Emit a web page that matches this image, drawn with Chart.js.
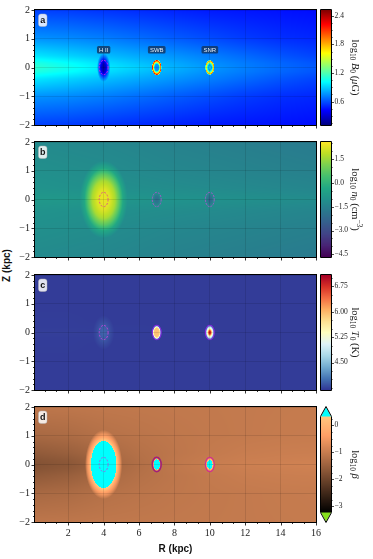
<!DOCTYPE html>
<html>
<head>
<meta charset="utf-8">
<script src="https://cdn.jsdelivr.net/npm/chart.js@4.4.1/dist/chart.umd.min.js"></script>
<style>
  body { margin: 0; background: #fff; width: 373px; height: 559px; overflow: hidden; position: relative; }
  canvas { position: absolute; }
  .axlab { position: absolute; font: bold 10px "Liberation Sans", Arial, sans-serif; color: #111; white-space: nowrap; }
</style>
</head>
<body>
<div class="axlab" id="zlab" style="left:-10px;top:260px;transform:rotate(-90deg);">Z (kpc)</div>
<script>
// ---- DATA ----

// background fields on a coarse grid: columns = R (kpc), rows = |Z| (kpc), mirrored about the plane
const rCols = [0, 2, 4, 6, 8, 10, 12, 14, 16];
const zRows = [0, 0.15, 0.4, 1, 2];

// a: log10 B0 (uG)
const bgB = [
  [1.13, 1.05, 0.97, 0.90, 0.83, 0.77, 0.71, 0.66, 0.62],
  [1.09, 1.02, 0.94, 0.87, 0.81, 0.75, 0.70, 0.65, 0.61],
  [0.96, 0.91, 0.86, 0.81, 0.76, 0.71, 0.66, 0.61, 0.57],
  [0.76, 0.74, 0.71, 0.67, 0.63, 0.59, 0.55, 0.52, 0.50],
  [0.56, 0.55, 0.53, 0.51, 0.49, 0.47, 0.46, 0.45, 0.44]
];
// b: log10 n0 (cm^-3)
const bgN = [
  [-0.82, -0.86, -0.90, -0.95, -1.00, -1.05, -1.10, -1.15, -1.20],
  [-0.88, -0.92, -0.97, -1.02, -1.07, -1.12, -1.17, -1.22, -1.27],
  [-1.00, -1.05, -1.10, -1.15, -1.20, -1.25, -1.30, -1.35, -1.40],
  [-1.10, -1.15, -1.20, -1.28, -1.35, -1.40, -1.45, -1.50, -1.55],
  [-1.25, -1.30, -1.35, -1.42, -1.50, -1.55, -1.60, -1.65, -1.70]
];
// c: log10 T0 (K)
const bgT = [
  [3.74, 3.74, 3.73, 3.73, 3.73, 3.73, 3.72, 3.72, 3.72],
  [3.73, 3.73, 3.73, 3.73, 3.72, 3.72, 3.72, 3.72, 3.72],
  [3.73, 3.73, 3.72, 3.72, 3.72, 3.72, 3.72, 3.72, 3.72],
  [3.72, 3.72, 3.72, 3.72, 3.72, 3.72, 3.72, 3.72, 3.72],
  [3.72, 3.72, 3.72, 3.72, 3.72, 3.72, 3.72, 3.72, 3.72]
];
// d: log10 beta
const bgBeta = [
  [-1.78, -1.68, -1.45, -1.25, -1.10, -1.00, -0.95, -0.92, -0.90],
  [-1.74, -1.64, -1.43, -1.24, -1.10, -1.02, -0.97, -0.95, -0.93],
  [-1.62, -1.52, -1.36, -1.21, -1.12, -1.05, -1.00, -0.98, -0.97],
  [-1.36, -1.31, -1.21, -1.15, -1.10, -1.07, -1.05, -1.03, -1.02],
  [-1.12, -1.11, -1.09, -1.08, -1.07, -1.06, -1.05, -1.04, -1.03]
];

// the three sources
const srcNames = ['H II', 'SWB', 'SNR'];
const srcR = [4, 7, 10];
const srcZ = [0, 0, 0];
const contourRad = [0.25, 0.25, 0.25];

// radial profiles around each source: rad (kpc, scaled by sr/sz), val (null = background)
const profB = [
  { sr: 0.75, sz: 1, rad: [0, 0.15, 0.25, 0.35, 0.5], val: [0.2, 0.28, 0.45, 0.62, null] },
  { sr: 1, sz: 1, rad: [0, 0.12, 0.17, 0.21, 0.245, 0.275], val: [0.72, 0.78, 1.35, 1.85, 2.2, null] },
  { sr: 1, sz: 1, rad: [0, 0.05, 0.1, 0.15, 0.19, 0.23, 0.26], val: [1.25, 0.85, 0.8, 1.2, 1.5, 1.95, null] }
];
const profN = [
  { sr: 1, sz: 1, rad: [0, 0.35, 0.65, 0.9, 1.1, 1.35], val: [2.35, 2.2, 1.6, 0.6, -0.4, null] },
  { sr: 1, sz: 1, rad: [0, 0.12, 0.24], val: [-2.1, -1.8, null] },
  { sr: 1, sz: 1, rad: [0, 0.12, 0.24], val: [-2.3, -1.9, null] }
];
const profT = [
  { sr: 1, sz: 1, rad: [0, 0.2, 0.4, 0.6], val: [3.95, 3.9, 3.8, null] },
  { sr: 1, sz: 1, rad: [0, 0.14, 0.18, 0.205, 0.23, 0.26], val: [5.95, 5.9, 5.6, 4.9, 4.2, null] },
  { sr: 1, sz: 1, rad: [0, 0.06, 0.1, 0.14, 0.18, 0.22, 0.25], val: [6.95, 6.7, 6.0, 5.3, 4.9, 4.3, null] }
];
const profBeta = [
  { sr: 0.7, sz: 0.8, rad: [0, 1, 1.08, 1.2, 1.35, 1.5], val: [1.0, 0.4, 0.18, -0.3, -0.7, null] },
  { sr: 1, sz: 1, rad: [0, 0.17, 0.2, 0.26], val: [1.0, 0.5, -0.6, null] },
  { sr: 1, sz: 1, rad: [0, 0.14, 0.17, 0.2, 0.26], val: [1.0, 0.5, 0.1, -0.3, null] }
];

// axes and colour bar ticks
const rTicks = [2, 4, 6, 8, 10, 12, 14, 16];
const zTicks = [-2, -1, 0, 1, 2];
const cbTicksB = [0.6, 1.2, 1.8, 2.4];
const cbTicksN = [-4.5, -3.0, -1.5, 0.0, 1.5];
const cbTicksT = [4.5, 5.25, 6.0, 6.75];
const cbTicksBeta = [-3, -2, -1, 0];

// ---- STYLE / LAYOUT ----
const SERIF = '"Liberation Serif", "DejaVu Serif", serif';
const SANS = '"Liberation Sans", Arial, sans-serif';
const rMin = 0.12, rMax = 16, zMin = -2, zMax = 2;
const tops = [10, 142, 275, 407];
const PH = 115;

const fmt = (v, d) => (v < -1e-9 ? '\u2212' : '') + Math.abs(v).toFixed(d);

function clamp01(x) { return Math.max(0, Math.min(1, x)); }
function jet(t) {
  return [1.5 - Math.abs(4 * t - 3), 1.5 - Math.abs(4 * t - 2), 1.5 - Math.abs(4 * t - 1)].map(v => clamp01(v) * 255);
}
function copper(t) { return [Math.min(1, 1.25 * t) * 255, 0.7812 * t * 255, 0.4975 * t * 255]; }
function stops(list) {
  const cols = list.map(h => [parseInt(h.slice(1, 3), 16), parseInt(h.slice(3, 5), 16), parseInt(h.slice(5, 7), 16)]);
  return t => {
    const f = t * (cols.length - 1), i = Math.min(cols.length - 2, Math.floor(f)), u = f - i;
    return [0, 1, 2].map(k => cols[i][k] + (cols[i + 1][k] - cols[i][k]) * u);
  };
}
const viridis = stops(['#440154', '#482475', '#414487', '#355f8d', '#2a788e', '#21918c', '#22a884', '#44bf70', '#7ad151', '#bddf26', '#fde725']);
const rdylbu = stops(['#313695', '#4575b4', '#74add1', '#abd9e9', '#e0f3f8', '#ffffbf', '#fee090', '#fdae61', '#f46d43', '#d73027', '#a50026']);

const panels = [
  { key: 'a', grid: bgB, prof: profB, vmin: 0.11, vmax: 2.52, cmap: jet, cbTicks: cbTicksB, cbDec: 1, cbMinor: 0.15,
    label: [['log', 'r'], ['10', 'b'], [' ', 'r'], ['B', 'i'], ['0', 'b'], [' (', 'r'], ['\u03bc', 'i'], ['G)', 'r']],
    cont: [{ c: '#e61ee6', dash: [2, 1.5], w: 0.9 }, null, null] },
  { key: 'b', grid: bgN, prof: profN, vmin: -4.66, vmax: 2.55, cmap: viridis, cbTicks: cbTicksN, cbDec: 1, cbMinor: 0.5,
    label: [['log', 'r'], ['10', 'b'], [' ', 'r'], ['n', 'i'], ['0', 'b'], [' (cm', 'r'], ['\u22123', 'p'], [')', 'r']],
    cont: [{ c: '#e0508c', dash: [2, 1.5], w: 0.9 }, { c: '#b050d0', dash: [2, 1.2], w: 0.9 }, { c: '#b050d0', dash: [2, 1.2], w: 0.9 }] },
  { key: 'c', grid: bgT, prof: profT, vmin: 3.69, vmax: 7.08, cmap: rdylbu, cbTicks: cbTicksT, cbDec: 2, cbMinor: 0.25,
    label: [['log', 'r'], ['10', 'b'], [' ', 'r'], ['T', 'i'], ['0', 'b'], [' (K)', 'r']],
    cont: [{ c: '#d040e0', dash: [2, 1.5], w: 0.9 }, { c: '#8a2be2', dash: [], w: 1.1 }, { c: '#8a2be2', dash: [], w: 1.1 }] },
  { key: 'd', grid: bgBeta, prof: profBeta, vmin: -3.23, vmax: 0.33, cmap: copper, cbTicks: cbTicksBeta, cbDec: 0, cbMinor: 0.25,
    over: [0, 255, 255], under: [134, 224, 30], ext: true,
    label: [['log', 'r'], ['10', 'b'], [' ', 'r'], ['\u03b2', 'i']],
    cont: [{ c: '#b050e0', dash: [2, 1.5], w: 0.9 }, { c: '#a0207a', dash: [], w: 1.6 }, { c: '#d03090', dash: [], w: 1.2 }] }
];

// ---- FIELD SAMPLING ----
function bilinear(grid, r, z) {
  const az = Math.abs(z);
  let i = 0; while (i < rCols.length - 2 && r > rCols[i + 1]) i++;
  let j = 0; while (j < zRows.length - 2 && az > zRows[j + 1]) j++;
  const u = clamp01((r - rCols[i]) / (rCols[i + 1] - rCols[i]));
  const w = clamp01((az - zRows[j]) / (zRows[j + 1] - zRows[j]));
  const a = grid[j][i] * (1 - u) + grid[j][i + 1] * u;
  const b = grid[j + 1][i] * (1 - u) + grid[j + 1][i + 1] * u;
  return a * (1 - w) + b * w;
}
function fieldAt(p, r, z) {
  const bg = bilinear(p.grid, r, z);
  let v = bg;
  p.prof.forEach((pr, k) => {
    const d = Math.hypot((r - srcR[k]) / pr.sr, (z - srcZ[k]) / pr.sz);
    const last = pr.rad[pr.rad.length - 1];
    if (d >= last) return;
    for (let i = 1; i < pr.rad.length; i++) {
      if (d < pr.rad[i]) {
        const a = pr.val[i - 1] == null ? bg : pr.val[i - 1];
        const b = pr.val[i] == null ? bg : pr.val[i];
        v = a + (b - a) * (d - pr.rad[i - 1]) / (pr.rad[i] - pr.rad[i - 1]);
        break;
      }
    }
  });
  return v;
}
function colorOf(p, v) {
  const t = (v - p.vmin) / (p.vmax - p.vmin);
  if (p.over && t > 1) return p.over;
  if (p.under && t < 0) return p.under;
  return p.cmap(clamp01(t));
}

function addCanvas(left, top, w, h) {
  const c = document.createElement('canvas');
  c.width = w; c.height = h;
  c.style.cssText = `left:${left}px;top:${top}px;width:${w}px;height:${h}px`;
  document.body.appendChild(c);
  return c;
}

function drawRich(ctx, parts, x, y, size) {
  const fontFor = st => (st === 'i' ? 'italic ' : '') + ((st === 'b' || st === 'p') ? size * 0.7 : size) + 'px ' + SERIF;
  let total = 0;
  parts.forEach(([t, st]) => { ctx.font = fontFor(st); total += ctx.measureText(t).width; });
  let cx = x - total / 2;
  ctx.textAlign = 'left'; ctx.textBaseline = 'middle';
  parts.forEach(([t, st]) => {
    ctx.font = fontFor(st);
    const dy = st === 'b' ? size * 0.3 : st === 'p' ? -size * 0.35 : 0;
    ctx.fillText(t, cx, y + dy);
    cx += ctx.measureText(t).width;
  });
}

function roundBox(ctx, x, y, w, h, r) {
  ctx.beginPath();
  ctx.roundRect(x, y, w, h, r);
}

// ---- PANELS ----
function makePanel(p, k) {
  const xh = k === 3 ? 37 : 10;
  const H = 10 + PH + xh;
  const cv = addCanvas(0, tops[k] - 10, 330, H);
  let img = null;

  const heat = {
    id: 'heat',
    beforeDraw(chart) {
      const { ctx, chartArea: a, scales: { x, y } } = chart;
      const w = Math.round(a.right - a.left), h = Math.round(a.bottom - a.top);
      if (!img) {
        img = ctx.createImageData(w, h);
        for (let j = 0; j < h; j++) {
          const zv = y.getValueForPixel(a.top + j + 0.5);
          for (let i = 0; i < w; i++) {
            const rv = x.getValueForPixel(a.left + i + 0.5);
            const c = colorOf(p, fieldAt(p, rv, zv));
            const o = (j * w + i) * 4;
            img.data[o] = c[0]; img.data[o + 1] = c[1]; img.data[o + 2] = c[2]; img.data[o + 3] = 255;
          }
        }
      }
      ctx.putImageData(img, Math.round(a.left), Math.round(a.top));
    }
  };

  const overlay = {
    id: 'overlay',
    afterDraw(chart) {
      const { ctx, chartArea: a, scales: { x, y } } = chart;
      ctx.save();
      // contours around the sources
      p.cont.forEach((c, i) => {
        if (!c) return;
        const cx = x.getPixelForValue(srcR[i]), cy = y.getPixelForValue(srcZ[i]);
        const rx = x.getPixelForValue(srcR[i] + contourRad[i]) - cx;
        const ry = cy - y.getPixelForValue(srcZ[i] + contourRad[i]);
        ctx.beginPath();
        ctx.ellipse(cx, cy, rx, ry, 0, 0, Math.PI * 2);
        ctx.setLineDash(c.dash); ctx.lineWidth = c.w; ctx.strokeStyle = c.c;
        ctx.stroke();
      });
      ctx.setLineDash([]);
      // frame
      ctx.strokeStyle = '#000'; ctx.lineWidth = 1;
      ctx.strokeRect(a.left - 0.5, a.top - 0.5, a.right - a.left + 1, a.bottom - a.top + 1);
      // tick marks (major + minor)
      ctx.beginPath();
      for (let n = 1; n * (2 / 3) <= rMax + 1e-6; n++) {
        const v = n * 2 / 3;
        if (v < rMin) continue;
        const px = Math.round(x.getPixelForValue(v)) + 0.5;
        const len = rTicks.some(t => Math.abs(t - v) < 1e-6) ? 3.5 : 2;
        ctx.moveTo(px, a.bottom); ctx.lineTo(px, a.bottom + len);
      }
      for (let n = -10; n <= 10; n++) {
        const v = n * 0.2;
        const py = Math.round(y.getPixelForValue(v)) + 0.5;
        const len = n % 5 === 0 ? 3.5 : 2;
        ctx.moveTo(a.left, py); ctx.lineTo(a.left - len, py);
      }
      ctx.lineWidth = 0.8; ctx.stroke();
      // panel letter
      roundBox(ctx, a.left + 3.5, a.top + 4, 8.5, 12.5, 2.5);
      ctx.fillStyle = 'rgba(255,255,255,0.85)'; ctx.fill();
      ctx.lineWidth = 0.5; ctx.strokeStyle = 'rgba(180,180,180,0.9)'; ctx.stroke();
      ctx.fillStyle = '#111'; ctx.font = 'bold 9px ' + SANS;
      ctx.textAlign = 'center'; ctx.textBaseline = 'middle';
      ctx.fillText(p.key, a.left + 7.75, a.top + 10.5);
      // source names in panel a
      if (k === 0) {
        ctx.font = '6px ' + SANS;
        srcNames.forEach((s, i) => {
          const cx = x.getPixelForValue(srcR[i]), cy = y.getPixelForValue(0.62);
          const w = ctx.measureText(s).width + 4;
          roundBox(ctx, cx - w / 2, cy - 3.8, w, 7.6, 1.5);
          ctx.fillStyle = 'rgba(18,52,96,0.82)'; ctx.fill();
          ctx.fillStyle = '#e6eef6';
          ctx.fillText(s, cx, cy + 0.3);
        });
      }
      ctx.restore();
    }
  };

  new Chart(cv, {
    type: 'scatter',
    data: { datasets: [{ data: srcR.map((r, i) => ({ x: r, y: srcZ[i] })), pointRadius: 0 }] },
    options: {
      responsive: false, animation: false, events: [],
      layout: { padding: { top: 10, right: 14, left: 0, bottom: 0 } },
      plugins: { legend: { display: false }, tooltip: { enabled: false } },
      scales: {
        x: {
          type: 'linear', min: rMin, max: rMax,
          afterBuildTicks: s => { s.ticks = rTicks.map(v => ({ value: v })); },
          afterFit: s => { s.height = xh; s.paddingLeft = 0; s.paddingRight = 0; },
          ticks: { display: k === 3, autoSkip: false, maxRotation: 0, padding: 5, color: '#222',
                   font: { family: SERIF, size: 10 }, callback: v => fmt(v, 0) },
          grid: { drawTicks: false, color: 'rgba(0,0,0,0.13)', lineWidth: 0.8 },
          border: { display: false },
          title: { display: k === 3, text: 'R (kpc)', color: '#111', padding: { top: 2, bottom: 4 },
                   font: { family: SANS, size: 10, weight: 'bold' } }
        },
        y: {
          type: 'linear', min: zMin, max: zMax,
          afterBuildTicks: s => { s.ticks = zTicks.map(v => ({ value: v })); },
          afterFit: s => { s.width = 35; s.paddingTop = 0; s.paddingBottom = 0; },
          ticks: { autoSkip: false, padding: 5, color: '#222', font: { family: SERIF, size: 10 }, callback: v => fmt(v, 0) },
          grid: { drawTicks: false, color: 'rgba(0,0,0,0.13)', lineWidth: 0.8 },
          border: { display: false }
        }
      }
    },
    plugins: [heat, overlay]
  });
}

// ---- COLOUR BARS ----
function makeColorbar(p, k) {
  const xh = k === 3 ? 37 : 10;
  const H = 10 + PH + xh;
  const cv = addCanvas(318, tops[k] - 10, 55, H);
  const ext = p.ext ? 9.5 : 0;

  const bar = {
    id: 'bar',
    beforeDraw(chart) {
      const { ctx, chartArea: a, scales: { y } } = chart;
      for (let j = Math.floor(a.top); j < Math.ceil(a.bottom); j++) {
        const c = p.cmap(clamp01((y.getValueForPixel(j + 0.5) - p.vmin) / (p.vmax - p.vmin)));
        ctx.fillStyle = `rgb(${c[0] | 0},${c[1] | 0},${c[2] | 0})`;
        ctx.fillRect(a.left, j, a.right - a.left, 1);
      }
    },
    afterDraw(chart) {
      const { ctx, chartArea: a, scales: { y } } = chart;
      const mid = (a.left + a.right) / 2;
      ctx.save();
      ctx.beginPath();
      if (ext) {
        ctx.moveTo(a.left, a.top); ctx.lineTo(mid, a.top - ext); ctx.lineTo(a.right, a.top); ctx.closePath();
        ctx.fillStyle = `rgb(${p.over.join(',')})`; ctx.fill();
        ctx.beginPath();
        ctx.moveTo(a.left, a.bottom); ctx.lineTo(mid, a.bottom + ext); ctx.lineTo(a.right, a.bottom); ctx.closePath();
        ctx.fillStyle = `rgb(${p.under.join(',')})`; ctx.fill();
        ctx.beginPath();
        ctx.moveTo(a.left - 0.5, a.top); ctx.lineTo(mid, a.top - ext - 0.5); ctx.lineTo(a.right + 0.5, a.top);
        ctx.lineTo(a.right + 0.5, a.bottom); ctx.lineTo(mid, a.bottom + ext + 0.5); ctx.lineTo(a.left - 0.5, a.bottom);
        ctx.closePath();
      } else {
        ctx.rect(a.left - 0.5, a.top - 0.5, a.right - a.left + 1, a.bottom - a.top + 1);
      }
      ctx.strokeStyle = '#000'; ctx.lineWidth = 1; ctx.stroke();
      // ticks on the right side
      ctx.beginPath();
      const n0 = Math.ceil(p.vmin / p.cbMinor - 1e-6), n1 = Math.floor(p.vmax / p.cbMinor + 1e-6);
      for (let n = n0; n <= n1; n++) {
        const v = n * p.cbMinor;
        const py = Math.round(y.getPixelForValue(v)) + 0.5;
        const len = p.cbTicks.some(t => Math.abs(t - v) < 1e-6) ? 3 : 1.6;
        ctx.moveTo(a.right, py); ctx.lineTo(a.right + len, py);
      }
      ctx.lineWidth = 0.7; ctx.stroke();
      // label, reading top to bottom
      ctx.translate(37, 10 + PH / 2);
      ctx.rotate(Math.PI / 2);
      ctx.fillStyle = '#222';
      drawRich(ctx, p.label, 0, 0, 10.5);
      ctx.restore();
    }
  };

  new Chart(cv, {
    type: 'scatter',
    data: { datasets: [{ data: [], pointRadius: 0 }] },
    options: {
      responsive: false, animation: false, events: [],
      layout: { padding: { top: 10 + ext, left: 3, right: 0, bottom: xh + ext } },
      plugins: { legend: { display: false }, tooltip: { enabled: false } },
      scales: {
        x: { display: false, min: 0, max: 1 },
        y: {
          position: 'right', type: 'linear', min: p.vmin, max: p.vmax,
          afterBuildTicks: s => { s.ticks = p.cbTicks.map(v => ({ value: v })); },
          afterFit: s => { s.width = 42; s.paddingTop = 0; s.paddingBottom = 0; },
          ticks: { autoSkip: false, padding: 3.5, color: '#222', font: { family: SERIF, size: 7.5 },
                   callback: v => fmt(v, p.cbDec) },
          grid: { display: false, drawTicks: false },
          border: { display: false }
        }
      }
    },
    plugins: [bar]
  });
}

panels.forEach((p, k) => makePanel(p, k));
panels.forEach((p, k) => makeColorbar(p, k));
</script>
</body>
</html>
